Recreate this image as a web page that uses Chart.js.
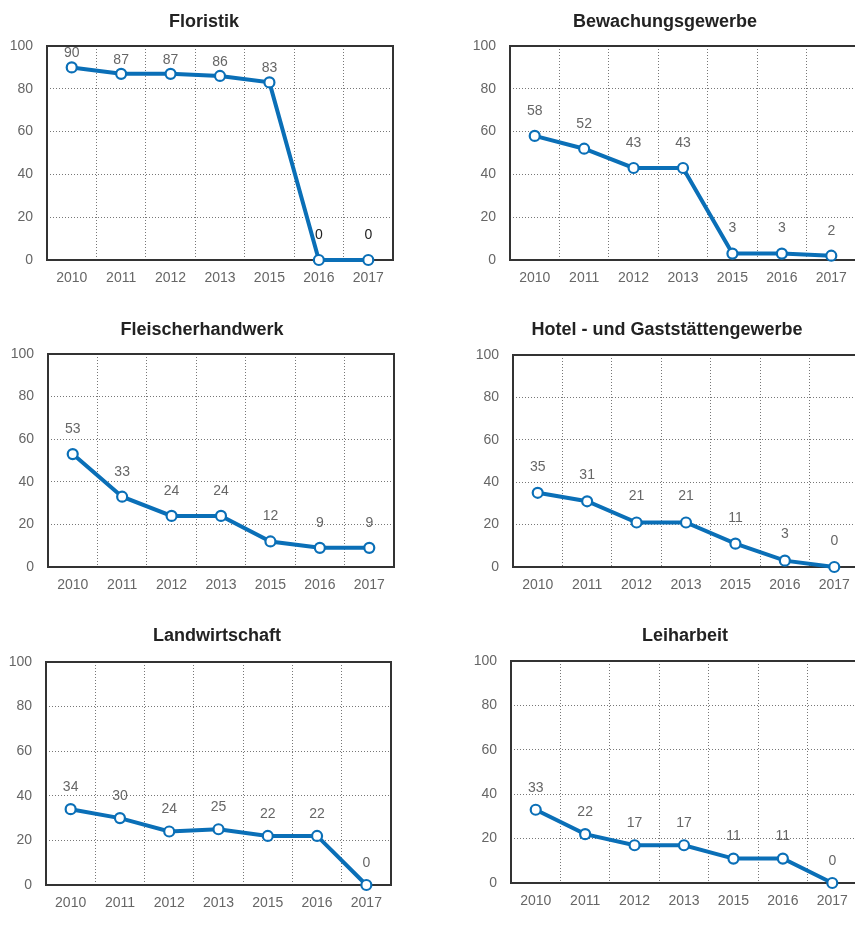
<!DOCTYPE html>
<html>
<head>
<meta charset="utf-8">
<script src="https://cdn.jsdelivr.net/npm/chart.js@4"></script>
<style>
  html, body { margin: 0; padding: 0; background: #fff; overflow: hidden; width: 855px; height: 926px; }
  .panel { position: absolute; }
</style>
</head>
<body>
<div id="charts"></div>
<script>
// Jahre (x-Achse)
const years = ['2010', '2011', '2012', '2013', '2015', '2016', '2017'];
const yTicks = [0, 20, 40, 60, 80, 100];

// Werte je Branche
const floristik = [90, 87, 87, 86, 83, 0, 0];
const bewachung = [58, 52, 43, 43, 3, 3, 2];
const fleischer = [53, 33, 24, 24, 12, 9, 9];
const hotel = [35, 31, 21, 21, 11, 3, 0];
const landwirtschaft = [34, 30, 24, 25, 22, 22, 0];
const leiharbeit = [33, 22, 17, 17, 11, 11, 0];

const BLUE = '#0a6fb7';
const GRAY = '#666666';
const FONT = '"Liberation Sans", Arial, sans-serif';

// Panel-Layout: Plotfläche (l, t, r, b) und Titelmitte
const panels = [
    { title: 'Floristik', data: floristik, l: 47, t: 46, r: 393, b: 260, tx: 204, ty: 22,
      offset: v => v > 50 ? 14 : 25, color: v => v === 0 ? '#222' : GRAY },
    { title: 'Bewachungsgewerbe', data: bewachung, l: 510, t: 46, r: 856, b: 260, tx: 665, ty: 22, offset: () => 25 },
    { title: 'Fleischerhandwerk', data: fleischer, l: 48, t: 354, r: 394, b: 567, tx: 202, ty: 330, offset: () => 25 },
    { title: 'Hotel - und Gaststättengewerbe', data: hotel, l: 513, t: 355, r: 859, b: 567, tx: 667, ty: 330, offset: () => 26 },
    { title: 'Landwirtschaft', data: landwirtschaft, l: 46, t: 662, r: 391, b: 885, tx: 217, ty: 636, offset: () => 22 },
    { title: 'Leiharbeit', data: leiharbeit, l: 511, t: 661, r: 857, b: 883, tx: 685, ty: 636, offset: () => 22 }
];

const Y_AXIS_W = 47;
const X_AXIS_H = 36;
const RIGHT_PAD = 10;

// Titel an fester Stelle zeichnen
const panelTitle = {
    id: 'panelTitle',
    afterDraw(chart, args, opts) {
        const ctx = chart.ctx;
        ctx.save();
        ctx.font = 'bold 18px ' + FONT;
        ctx.fillStyle = '#222';
        ctx.textAlign = 'center';
        ctx.textBaseline = 'middle';
        ctx.fillText(opts.text, opts.x, opts.y);
        ctx.restore();
    }
};

// Rahmen um die Plotfläche
const plotFrame = {
    id: 'plotFrame',
    beforeDatasetsDraw(chart) {
        const { ctx, chartArea: a } = chart;
        ctx.save();
        ctx.strokeStyle = '#333';
        ctx.lineWidth = 2;
        ctx.strokeRect(a.left, a.top, a.right - a.left, a.bottom - a.top);
        ctx.restore();
    }
};

// Wertebeschriftung über den Punkten
const valueLabels = {
    id: 'valueLabels',
    afterDatasetsDraw(chart, args, opts) {
        const ctx = chart.ctx;
        const meta = chart.getDatasetMeta(0);
        const values = chart.data.datasets[0].data;
        ctx.save();
        ctx.font = '14px ' + FONT;
        ctx.textAlign = 'center';
        ctx.textBaseline = 'middle';
        meta.data.forEach((pt, i) => {
            const v = values[i];
            ctx.fillStyle = opts.color ? opts.color(v) : GRAY;
            ctx.fillText(String(v), pt.x, pt.y - opts.offset(v));
        });
        ctx.restore();
    }
};

const holder = document.getElementById('charts');

panels.forEach(p => {
    const left = p.l - Y_AXIS_W;
    const top = p.t - 46;
    const width = Y_AXIS_W + (p.r - p.l) + RIGHT_PAD;
    const height = 46 + (p.b - p.t) + X_AXIS_H;

    const div = document.createElement('div');
    div.className = 'panel';
    div.style.left = left + 'px';
    div.style.top = top + 'px';
    const canvas = document.createElement('canvas');
    canvas.width = width;
    canvas.height = height;
    canvas.style.width = width + 'px';
    canvas.style.height = height + 'px';
    div.appendChild(canvas);
    holder.appendChild(div);

    new Chart(canvas.getContext('2d'), {
        type: 'line',
        data: {
            labels: years,
            datasets: [{
                data: p.data,
                borderColor: BLUE,
                borderWidth: 4,
                pointRadius: 5,
                pointBorderWidth: 2.2,
                pointBackgroundColor: '#fff',
                pointBorderColor: BLUE,
                tension: 0,
                clip: false
            }]
        },
        options: {
            responsive: false,
            animation: false,
            layout: { padding: { top: 46, left: 0, right: RIGHT_PAD, bottom: 0 } },
            plugins: {
                legend: { display: false },
                tooltip: { enabled: false },
                title: { display: false },
                panelTitle: { text: p.title, x: p.tx - left, y: p.ty - top },
                valueLabels: { offset: p.offset, color: p.color }
            },
            scales: {
                x: {
                    offset: true,
                    grid: { offset: true, color: '#777', lineWidth: 1, drawTicks: false },
                    border: { display: false, dash: [1, 2] },
                    ticks: { color: GRAY, font: { family: FONT, size: 14 }, padding: 10, maxRotation: 0 },
                    afterFit: s => { s.height = X_AXIS_H; }
                },
                y: {
                    min: 0,
                    max: 100,
                    afterBuildTicks: s => { s.ticks = yTicks.map(v => ({ value: v })); },
                    grid: { color: '#777', lineWidth: 1, drawTicks: false },
                    border: { display: false, dash: [1, 2] },
                    ticks: { color: GRAY, font: { family: FONT, size: 14 }, padding: 14 },
                    afterFit: s => { s.width = Y_AXIS_W; }
                }
            }
        },
        plugins: [panelTitle, plotFrame, valueLabels]
    });
});
</script>
</body>
</html>
